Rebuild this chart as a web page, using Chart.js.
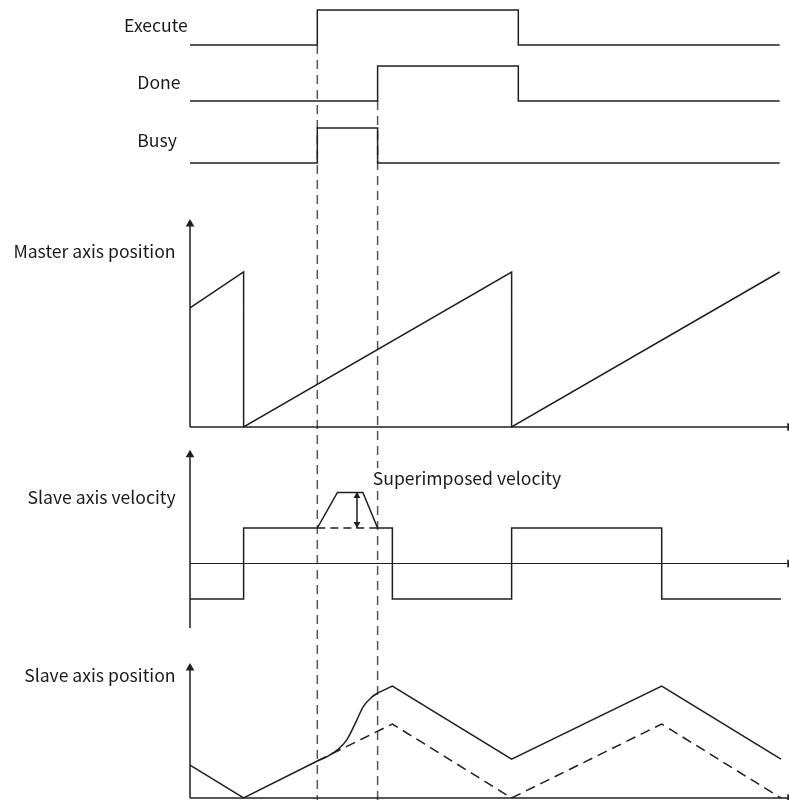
<!DOCTYPE html>
<html>
<head>
<meta charset="utf-8">
<script src="https://cdn.jsdelivr.net/npm/chart.js@4.4.0/dist/chart.umd.min.js"></script>
<style>
  html, body { margin: 0; padding: 0; background: #fff; }
  #wrap { width: 789px; height: 800px; position: relative; }
</style>
</head>
<body>
<div id="wrap"><canvas id="timing"></canvas></div>
<script>
const executeTime = [0, 47.5, 47.5, 122.5, 122.5, 220];
const executeLevel = [0, 0, 1, 1, 0, 0];
const doneTime = [0, 70, 70, 122.5, 122.5, 220];
const doneLevel = [0, 0, 1, 1, 0, 0];
const busyTime = [0, 47.5, 47.5, 70, 70, 220];
const busyLevel = [0, 0, 1, 1, 0, 0];

const masterTime = [0, 20, 20, 120, 120, 220];
const masterPos = [76.8, 100, 0, 100, 0, 100];

const velTime = [0, 20, 20, 47.5, 55, 64.5, 70, 75.5, 75.5, 120, 120, 176, 176, 220.5];
const velValue = [-1, -1, 1, 1, 2, 2, 1, 1, -1, -1, 1, 1, -1, -1];
const baseVelTime = [47.5, 70];
const baseVelValue = [1, 1];
const extraVelTime = [62.3, 62.3];
const extraVelValue = [1, 2];

const slaveTime = [0, 20, 47.5];
const slavePos = [17.8, 0, 20];
const blendTime = [47.5, 51, 55, 58.5, 62.2, 64.7, 67.8, 70.1];
const blendPos = [20, 22.3, 26, 31.4, 42, 49.5, 54.5, 56.8];
const slaveAfterTime = [70.1, 75.5, 120, 176, 220.5];
const slaveAfterPos = [56.8, 60.5, 21, 60.5, 21];
const plainTime = [47.5, 75.5, 120, 176, 220.5];
const plainPos = [20, 40, 0, 40, 0];

const cursorTimes = [47.5, 70];

const ink = '#1f1f1f';

function pts(xs, ys) {
    return xs.map((x, i) => ({x: x, y: ys[i]}));
}
function line(data, axis, extra) {
    return Object.assign({
        type: 'line', data: data, yAxisID: axis, borderColor: ink, borderWidth: 1.5,
        pointRadius: 0, tension: 0, fill: false
    }, extra || {});
}
function arrow(data, axis, rot, r) {
    return {
        type: 'line', data: data, yAxisID: axis, showLine: false, pointStyle: 'triangle',
        pointRadius: r, pointRotation: rot, pointBackgroundColor: ink, pointBorderColor: ink,
        pointBorderWidth: 0, clip: false
    };
}
function panel(min, max, h, w) {
    return {type: 'linear', display: false, min: min, max: max, stack: 'rows', stackWeight: h, weight: w, position: 'left'};
}

const datasets = [
    line(pts(executeTime, executeLevel), 'yExec'),
    line(pts(doneTime, doneLevel), 'yDone'),
    line(pts(busyTime, busyLevel), 'yBusy'),

    // master axis
    line(pts([0, 0], [0, 131]), 'yMaster'),
    line(pts([0, 223.5], [0, 0]), 'yMaster'),
    arrow(pts([0], [131]), 'yMaster', 0, 5),
    arrow(pts([223.8], [0]), 'yMaster', 90, 5),
    line(pts(masterTime, masterPos), 'yMaster'),

    // slave velocity
    line(pts([0, 0], [-1.82, 3.06]), 'yVel'),
    line(pts([0, 223.5], [0, 0]), 'yVel', {borderWidth: 1.2}),
    arrow(pts([0], [3.06]), 'yVel', 0, 5),
    arrow(pts([223.8], [0]), 'yVel', 90, 5),
    line(pts(velTime, velValue), 'yVel'),
    line(pts(baseVelTime, baseVelValue), 'yVel', {borderDash: [8, 5]}),
    line(pts(extraVelTime, extraVelValue), 'yVel'),
    arrow(pts([62.3, 62.3], [1.9, 1.11]), 'yVel', [0, 180], 4),

    // slave position
    line(pts([0, 0], [0, 70.3]), 'yPos'),
    line(pts([0, 223.5], [0, 0]), 'yPos'),
    arrow(pts([0], [70.3]), 'yPos', 0, 5),
    arrow(pts([223.8], [0]), 'yPos', 90, 5),
    line(pts(slaveTime, slavePos), 'yPos'),
    line(pts(blendTime, blendPos), 'yPos', {cubicInterpolationMode: 'monotone'}),
    line(pts(slaveAfterTime, slaveAfterPos), 'yPos'),
    line(pts(plainTime, plainPos), 'yPos', {borderDash: [10, 6]})
];

const rowLabels = [
    {text: 'Execute', axis: 'yExec', t: -12.7, v: 0.38, align: 'center'},
    {text: 'Done', axis: 'yDone', t: -11.6, v: 0.334, align: 'center'},
    {text: 'Busy', axis: 'yBusy', t: -12.3, v: 0.466, align: 'center'},
    {text: 'Master axis position', axis: 'yMaster', t: -5.4, v: 108.8, align: 'right'},
    {text: 'Slave axis velocity', axis: 'yVel', t: -5.4, v: 1.69, align: 'right'},
    {text: 'Superimposed velocity', axis: 'yVel', t: 68.2, v: 2.21, align: 'left', boxed: true},
    {text: 'Slave axis position', axis: 'yPos', t: -5.4, v: 62.9, align: 'right'}
];

const timingDecor = {
    id: 'timingDecor',
    beforeDatasetsDraw(chart) {
        const ctx = chart.ctx;
        const x = chart.scales.x;
        const starts = [chart.scales.yExec.getPixelForValue(0), chart.scales.yDone.getPixelForValue(0)];
        ctx.save();
        ctx.strokeStyle = '#555';
        ctx.lineWidth = 1.5;
        ctx.setLineDash([9, 6]);
        cursorTimes.forEach((t, i) => {
            const px = x.getPixelForValue(t);
            ctx.beginPath();
            ctx.moveTo(px, starts[i]);
            ctx.lineTo(px, chart.height);
            ctx.stroke();
        });
        ctx.restore();
    },
    afterDatasetsDraw(chart) {
        const ctx = chart.ctx;
        ctx.save();
        ctx.font = '17.6px "Noto Sans CJK SC", "Noto Sans", sans-serif';
        ctx.textBaseline = 'alphabetic';
        rowLabels.forEach((l) => {
            const px = chart.scales.x.getPixelForValue(l.t);
            const py = chart.scales[l.axis].getPixelForValue(l.v);
            ctx.textAlign = l.align;
            if (l.boxed) {
                const w = ctx.measureText(l.text).width;
                ctx.fillStyle = '#fff';
                ctx.fillRect(px - 2, py - 17, w + 4, 22);
            }
            ctx.fillStyle = '#1a1a1a';
            ctx.fillText(l.text, px, py);
        });
        ctx.restore();
    }
};

new Chart(document.getElementById('timing'), {
    data: {datasets: datasets},
    options: {
        responsive: true,
        maintainAspectRatio: false,
        animation: false,
        events: [],
        layout: {padding: 0, autoPadding: false},
        plugins: {legend: {display: false}, tooltip: {enabled: false}},
        scales: {
            x: {type: 'linear', display: false, min: -70.9, max: 223.5},
            yExec: panel(-0.3143, 1.2857, 56, 6),
            yDone: panel(-0.4857, 1.2857, 62, 5),
            yBusy: panel(-0.4857, 1.2857, 62, 4),
            yMaster: panel(-8.39, 159.35, 260, 3),
            yVel: panel(-2.155, 3.479, 200, 2),
            yPos: panel(-1.08, 85.41, 160, 1)
        }
    },
    plugins: [timingDecor]
});
</script>
</body>
</html>
